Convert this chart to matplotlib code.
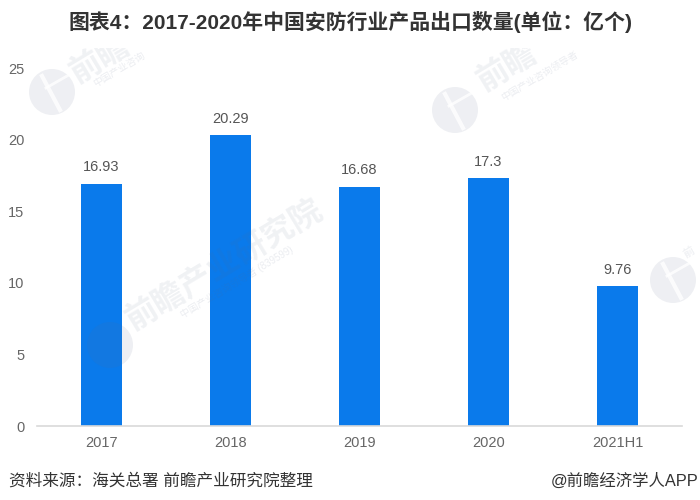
#!/usr/bin/env python3
import matplotlib
matplotlib.use('Agg')
import matplotlib.pyplot as plt
from matplotlib.patches import Ellipse
from matplotlib.lines import Line2D
from matplotlib.transforms import Bbox, TransformedBbox

plt.rcParams['font.family'] = ['Liberation Sans', 'Noto Sans CJK SC', 'DejaVu Sans']

# Data
years = ['2017', '2018', '2019', '2020', '2021H1']
export_qty = [16.93, 20.29, 16.68, 17.3, 9.76]
value_labels = ['16.93', '20.29', '16.68', '17.3', '9.76']
y_ticks = [0, 5, 10, 15, 20, 25]

W, H = 700, 500
fig = plt.figure(figsize=(7, 5), dpi=100, facecolor='white')

# axes placed in pixels: x 37-682, y 68-426 from the top
ax = fig.add_axes([37 / W, 1 - 426 / H, 645 / W, 358 / H])
x = range(len(years))
ax.bar(x, export_qty, width=0.318, color='#0a7aeb')
ax.set_xlim(-0.5, 4.5)
ax.set_ylim(0, 25)

for i, v in enumerate(export_qty):
    ax.annotate(value_labels[i], (i, v), xytext=(0, 7), textcoords='offset points',
                ha='center', va='bottom', fontsize=10.5, color='#555555')

ax.set_xticks(list(x), years)
ax.set_yticks(y_ticks)
ax.tick_params(axis='both', length=0, labelsize=10.5, labelcolor='#666666')
ax.tick_params(axis='x', pad=7)
ax.tick_params(axis='y', pad=9)
for side in ['top', 'right', 'left']:
    ax.spines[side].set_visible(False)
ax.spines['bottom'].set_color('#d9d9d9')
ax.spines['bottom'].set_linewidth(1.2)

# Title and footer
fig.text(350 / W, 1 - 22 / H, '图表4：2017-2020年中国安防行业产品出口数量(单位：亿个)',
         ha='center', va='center', fontsize=15, fontweight='bold', color='#333333')
fig.text(9 / W, 1 - 481 / H, '资料来源：海关总署 前瞻产业研究院整理',
         ha='left', va='center', fontsize=12, color='#333333')
fig.text(699 / W, 1 - 481 / H, '@前瞻经济学人APP',
         ha='right', va='center', fontsize=11.8, color='#333333')

# Watermarks, the upper ones are cut off just under the title
clip = TransformedBbox(Bbox([[0, 0], [1, 1 - 48 / H]]), fig.transFigure)
wm_color = '#5a6a8a'
big_marks = [(100, 60, '前瞻'), (507, 68, '前瞻'), (225, 265, '前瞻产业研究院')]
small_marks = [(119, 69, '中国产业咨询'), (540, 76, '中国产业咨询领导者'),
               (237, 282, '中国产业咨询领导者 (839599)')]
logos = [(52, 92, True), (455, 110, True), (110, 345, False), (673, 280, True)]
for px, py, s in big_marks:
    t = fig.text(px / W, 1 - py / H, s, ha='center', va='center', fontsize=23, rotation=31,
                 fontweight='bold', color=wm_color, alpha=0.09)
    t.set_clip_box(clip)
    t.set_clip_on(True)
for px, py, s in small_marks:
    t = fig.text(px / W, 1 - py / H, s, ha='center', va='center', fontsize=7, rotation=31,
                 color=wm_color, alpha=0.12)
    t.set_clip_box(clip)
    t.set_clip_on(True)
fig.text(689 / W, 1 - 252 / H, '前', ha='center', va='center', fontsize=8, rotation=31,
         fontweight='bold', color=wm_color, alpha=0.09)
for px, py, slit in logos:
    fig.add_artist(Ellipse((px / W, 1 - py / H), 46 / W, 46 / H,
                           transform=fig.transFigure, color=wm_color, alpha=0.10, lw=0))
    if not slit:
        continue
    # white slit through the logo
    fig.add_artist(Line2D([(px - 10) / W, (px + 8) / W], [1 - (py - 16) / H, 1 - (py + 18) / H],
                          transform=fig.transFigure, color='white', lw=3, alpha=0.8))
    fig.add_artist(Line2D([(px - 6) / W, (px + 22) / W], [1 - (py - 4) / H, 1 - (py - 20) / H],
                          transform=fig.transFigure, color='white', lw=2, alpha=0.8))

fig.savefig('out.png', dpi=100)
